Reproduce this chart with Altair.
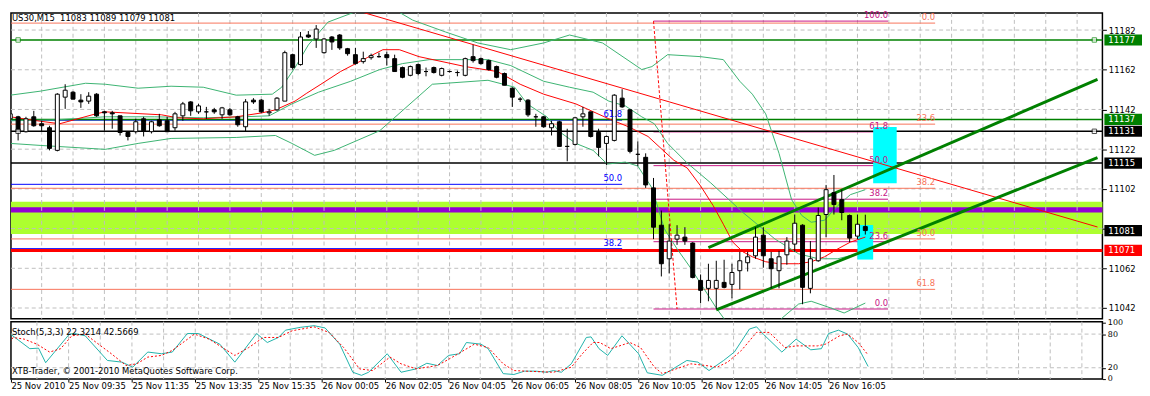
import altair as alt
import pandas as pd

# ---------------- candles (M15 bars, index 0..109) ----------------
opens = [11137.3, 11138.3, 11130.8, 11138.3, 11134.8, 11132.8, 11121.4, 11148.2, 11150.7, 11146.7,
         11146.2, 11149.7, 11140.8, 11140.3, 11138.8, 11130.4, 11130.8, 11137.3, 11130.8, 11136.8,
         11136.3, 11132.8, 11138.8, 11145.8, 11140.8, 11140.8, 11141.8, 11139.3, 11141.8, 11138.3,
         11133.3, 11146.7, 11146.7, 11140.3, 11141.8, 11146.2, 11169.6, 11164.6, 11179.5, 11177.5,
         11170.6, 11178.5, 11179.5, 11172.6, 11169.6, 11166.1, 11168.1, 11168.6, 11169.6, 11167.6,
         11163.1, 11159.2, 11164.6, 11161.1, 11163.1, 11159.2, 11161.1, 11160.6, 11159.2, 11168.6,
         11167.6, 11166.6, 11163.6, 11160.1, 11152.7, 11147.2, 11146.7, 11138.3, 11138.3, 11132.8,
         11135.8, 11123.4, 11124.4, 11138.3, 11140.8, 11130.4, 11124.9, 11126.4, 11147.7, 11141.8,
         11119.4, 11117.9, 11102.5, 11083.7, 11066.8, 11076.7, 11077.7, 11074.7, 11055.9, 11051.9,
         11051.9, 11054.9, 11053.9, 11060.8, 11064.8, 11068.3, 11078.7, 11066.8, 11060.8, 11068.8,
         11074.2, 11083.7, 11051.9, 11065.8, 11089.1, 11100.1, 11096.6, 11088.6, 11078.2, 11083.0]
highs = [11141.3, 11138.8, 11138.3, 11141.3, 11136.3, 11133.8, 11150.2, 11154.7, 11151.2, 11149.7,
         11150.7, 11150.2, 11141.3, 11141.3, 11138.8, 11130.8, 11137.3, 11138.3, 11136.3, 11139.8,
         11138.3, 11140.8, 11145.8, 11146.2, 11144.8, 11143.3, 11142.8, 11143.3, 11142.8, 11138.8,
         11147.2, 11147.7, 11147.2, 11142.3, 11148.2, 11171.6, 11170.1, 11181.0, 11181.5, 11184.5,
         11178.0, 11179.0, 11180.0, 11173.0, 11173.0, 11171.1, 11170.1, 11170.6, 11171.1, 11169.6,
         11163.6, 11164.1, 11165.1, 11163.1, 11163.6, 11163.1, 11161.6, 11161.6, 11168.1, 11174.6,
         11168.1, 11167.1, 11164.1, 11160.6, 11153.2, 11148.2, 11147.2, 11139.8, 11138.8, 11136.3,
         11136.3, 11132.3, 11138.3, 11143.3, 11140.8, 11132.3, 11128.9, 11149.7, 11152.2, 11142.3,
         11125.9, 11119.9, 11107.5, 11091.1, 11084.2, 11083.7, 11082.7, 11075.2, 11058.9, 11064.3,
         11065.8, 11066.3, 11064.3, 11070.3, 11070.3, 11082.7, 11082.7, 11070.3, 11070.8, 11077.7,
         11089.1, 11084.2, 11075.7, 11092.6, 11104.0, 11109.0, 11101.6, 11089.1, 11089.1, 11089.0]
lows = [11135.8, 11126.4, 11130.4, 11133.3, 11130.8, 11121.4, 11120.9, 11142.3, 11147.2, 11142.8,
        11144.8, 11138.3, 11131.3, 11132.3, 11128.9, 11126.4, 11129.9, 11128.4, 11129.9, 11133.3,
        11130.8, 11131.3, 11136.3, 11138.8, 11139.8, 11137.3, 11139.8, 11137.3, 11138.8, 11133.3,
        11130.8, 11144.8, 11140.3, 11138.8, 11141.3, 11146.2, 11162.1, 11164.1, 11178.0, 11173.0,
        11170.1, 11172.0, 11172.0, 11169.1, 11164.6, 11165.1, 11167.1, 11168.1, 11164.1, 11161.1,
        11157.7, 11158.7, 11159.2, 11158.7, 11160.1, 11158.7, 11160.6, 11158.7, 11158.7, 11165.6,
        11164.6, 11161.6, 11157.7, 11154.2, 11143.3, 11145.8, 11138.3, 11133.3, 11132.8, 11128.9,
        11123.4, 11115.9, 11123.9, 11133.3, 11127.9, 11118.4, 11114.0, 11125.9, 11142.8, 11119.9,
        11113.5, 11102.5, 11076.7, 11057.9, 11059.4, 11073.8, 11073.8, 11056.9, 11044.4, 11045.4,
        11041.5, 11051.9, 11046.9, 11051.4, 11060.4, 11066.8, 11062.3, 11051.9, 11051.9, 11063.8,
        11070.3, 11043.9, 11049.4, 11065.3, 11077.7, 11089.1, 11086.2, 11075.2, 11076.7, 11079.0]
closes = [11139.8, 11131.3, 11137.3, 11133.8, 11133.8, 11122.4, 11149.7, 11151.7, 11147.2, 11145.8,
          11148.7, 11138.8, 11140.3, 11139.8, 11130.4, 11128.4, 11135.8, 11131.3, 11135.8, 11133.8,
          11130.8, 11139.8, 11144.8, 11141.3, 11143.8, 11140.8, 11140.8, 11142.8, 11139.3, 11134.3,
          11145.8, 11145.8, 11140.8, 11140.8, 11147.7, 11170.6, 11163.1, 11178.5, 11178.5, 11182.5,
          11177.5, 11176.0, 11173.0, 11170.1, 11165.1, 11167.6, 11169.1, 11168.6, 11168.1, 11161.1,
          11158.2, 11163.6, 11160.1, 11161.1, 11160.6, 11162.6, 11161.1, 11160.6, 11167.6, 11166.6,
          11165.1, 11162.1, 11158.2, 11154.2, 11148.2, 11147.2, 11139.3, 11138.3, 11133.3, 11134.8,
          11123.4, 11123.4, 11137.8, 11139.8, 11128.4, 11122.9, 11128.4, 11149.2, 11143.3, 11120.9,
          11119.4, 11104.0, 11082.7, 11064.3, 11075.7, 11078.7, 11075.7, 11057.4, 11050.9, 11055.9,
          11055.9, 11052.4, 11059.9, 11065.8, 11067.8, 11077.7, 11068.3, 11061.8, 11067.8, 11075.7,
          11084.7, 11052.4, 11066.8, 11088.6, 11101.6, 11094.1, 11090.1, 11077.2, 11084.2, 11081.0]

# ---------------- axis ticks / labels ----------------
price_ticks = [11042, 11062, 11082, 11102, 11122, 11142, 11162, 11182]
hidden_price_label = 11082   # covered by the current-price tag in the reference
grid_bars = [4, 8, 12, 16, 20, 24, 28, 32, 36, 40, 44, 48, 52, 56, 60, 64, 68, 72, 76, 80,
             84, 88, 92, 96, 100, 104, 108, 112, 116, 120, 124, 128, 132, 136]
time_ticks = [0, 8, 16, 24, 32, 40, 48, 56, 64, 72, 80, 88, 96, 104]
time_labels = ["25 Nov 2010", "25 Nov 09:35", "25 Nov 11:35", "25 Nov 13:35", "25 Nov 15:35",
               "26 Nov 00:05", "26 Nov 02:05", "26 Nov 04:05", "26 Nov 06:05", "26 Nov 08:05",
               "26 Nov 10:05", "26 Nov 12:05", "26 Nov 14:05", "26 Nov 16:05"]
stoch_ticks = [0, 20, 80, 100]

# ---------------- indicators (read points: bar index, price) ----------------
ma_k = [0, 3.4, 6.3, 10.9, 12.1, 19.3, 21.3, 24.6, 28.8, 32.1, 33.8, 36.3, 37.8, 39.6, 42.1, 45.5,
        47.5, 49.6, 52.1, 58, 62.1, 65, 68, 72.1, 76.3, 78.8, 81.3, 84.6, 86.3, 88, 89.6, 90.9,
        92.1, 93.4, 94.6, 96.3, 98, 100.5, 102.1, 103.8, 105.5, 107.1, 109]
ma_p = [11138.3, 11136.3, 11134.8, 11139.8, 11140.8, 11139.3, 11137.8, 11137.3, 11138.3, 11140.3,
        11141.8, 11146.2, 11150.2, 11154.7, 11161.1, 11168.1, 11172.1, 11172.1, 11168.6, 11163.6,
        11161.1, 11154.7, 11149.7, 11144.8, 11137.3, 11133.3, 11128.4, 11116.4, 11112.5, 11103.5,
        11093.6, 11084.2, 11075.2, 11070.3, 11067.8, 11065.3, 11064.3, 11064.3, 11065.3, 11067.8,
        11071.8, 11075.2, 11077.7]
bbu_k = [0, 3.8, 9.6, 12.1, 16.3, 20.5, 24.6, 28.8, 33.4, 34.6, 36.3, 38, 40.5, 43.8, 46.3, 49.6,
         51.3, 55.5, 59.6, 63.8, 68, 71.3, 75.5, 80.5, 81.8, 83.8, 88, 90.9, 93, 94.6, 96.3, 98,
         99.6, 100.9, 102.1, 103.8, 105.5, 107.1, 109]
bbu_p = [11149.2, 11151.2, 11155.2, 11154.7, 11152.7, 11153.7, 11153.2, 11149.2, 11149.7, 11153.2,
         11163.1, 11174.5, 11186.0, 11190.9, 11192.9, 11190.9, 11187.0, 11181.0, 11175.5, 11172.1,
         11175.5, 11179.5, 11175.5, 11162.1, 11163.6, 11169.6, 11168.6, 11167.1, 11156.2, 11149.7,
         11139.8, 11119.9, 11096.6, 11088.6, 11085.2, 11086.2, 11093.6, 11099.1, 11101.6]
bbm_k = [0, 5.9, 12.1, 18.4, 24.6, 29.6, 33, 35.9, 39.3, 43.4, 47.1, 50, 53.4, 57.5, 60.9, 63.8,
         68, 71.3, 74.3, 76.3, 78.4, 80.5, 82.1, 83.8, 86.3, 89.3, 93.4, 97.5, 100.5, 103, 105.5,
         108, 109]
bbm_p = [11136.3, 11136.8, 11138.3, 11138.3, 11137.8, 11138.3, 11138.8, 11144.8, 11150.7, 11156.2,
         11162.1, 11165.1, 11167.1, 11167.1, 11167.1, 11164.1, 11156.2, 11153.2, 11150.7, 11146.2,
         11143.8, 11138.3, 11134.8, 11124.9, 11115.0, 11105.0, 11090.1, 11076.7, 11069.3, 11066.8,
         11066.8, 11069.3, 11070.3]
bbl_k = [0, 3.8, 8, 12.1, 16.3, 20.5, 28.8, 33.8, 35.9, 38.8, 41.3, 47.1, 53.8, 60.9, 64.3, 65.9,
         68.4, 70, 72.1, 74.3, 76.1, 78.4, 80, 81.8, 83.4, 85, 86.8, 88.4, 90, 92.1, 95.3, 98.4,
         100.5, 102.1, 104.6, 106.3, 109]
bbl_p = [11124.9, 11123.9, 11122.9, 11121.9, 11124.9, 11127.4, 11127.9, 11128.9, 11124.9, 11118.9,
         11121.4, 11131.3, 11154.7, 11156.7, 11153.2, 11144.8, 11138.3, 11130.8, 11124.9, 11121.4,
         11114.5, 11115.5, 11113.5, 11102.5, 11081.7, 11071.8, 11061.8, 11051.9, 11042.0, 11030.6,
         11023.0, 11037.0, 11044.0, 11045.4, 11042.0, 11039.5, 11044.5]

# ---------------- stochastic (5,3,3) read points ----------------
st_k = [0, 0.75, 3.1, 4.2, 5.1, 8.1, 8.75, 10.1, 12.9, 14.75, 16.1, 18, 19.75, 21.1, 23, 24.4,
        27.1, 29, 31.75, 33.1, 34.5, 35.4, 37.25, 39, 40.4, 42.25, 43.9, 45, 45.9, 48.25, 50,
        51.9, 53.25, 54.6, 56, 57.4, 58.25, 60.1, 61, 62.9, 64.25, 65.6, 67, 68.4, 69.25, 70.25,
        71.5, 73.4, 74, 75, 76.1, 77.9, 80, 81.1, 83, 86.1, 87.5, 88.9, 90.75, 92.1, 94, 94.9,
        95.75, 98.1, 99.9, 101.75, 103.1, 104, 105.25, 106.4, 107.75, 109]
st_v = [80, 79, 54, 55, 29, 80, 81, 77, 33, 30, 21, 48, 45, 48, 81, 81,
        62, 30, 81, 65, 74, 87, 92, 95, 91, 62, 12, 6.5, 12, 45, 12,
        18, 28, 24, 42, 45, 65, 62, 54, 9.5, 8, 14, 14, 12, 15, 12,
        27, 74, 75, 54, 42, 77, 45, 11, 6.5, 33, 30, 15, 33, 48, 89, 93,
        80, 48, 71, 52, 54, 81, 87, 80, 56, 22.3]
sg_k = [0, 1, 2.4, 4, 5.6, 7, 8.4, 10.1, 11.5, 13.4, 15.25, 16.6, 18, 19.75, 21.1, 23.9, 25.75,
        29, 30.75, 32.6, 34.5, 36.25, 39, 40.9, 42.75, 44.75, 46.4, 48.6, 50, 51.9, 54.6, 56.5,
        59.25, 61, 62.9, 64.25, 66.5, 69.25, 71.5, 72.9, 74.25, 75.1, 76.5, 78.9, 80.25, 82, 83,
        84.75, 86.6, 88.5, 89.9, 91.25, 93, 94.9, 96.5, 98.5, 99.9, 102.6, 103.6, 105.4, 106.4,
        107.75, 109]
sg_v = [54, 74, 71, 62, 48, 54, 77, 80, 65, 45, 24, 27, 39, 42, 51, 80, 71,
        42, 56, 74, 74, 86, 93, 83, 56, 18, 15, 39, 27, 18, 24, 39,
        62, 56, 27, 15, 13.5, 12, 21, 45, 65, 65, 54, 65, 56, 21, 9.5,
        18, 27, 24, 21, 30, 51, 83, 83, 56, 59, 59, 62, 77, 80,
        65, 42.6]

# ---------------- chart objects ----------------
band_lo = [11079.3, 11090.1]
band_hi = [11095.5, 11092.8]
band_col = ["#ADFF2F", "#9400D3"]

fib_from = [0, 0, 0, 0, 0, 82, 82, 82, 82, 82, 82, 0, 0, 0]
fib_to = [117.9, 117.9, 117.9, 117.9, 117.9, 111.9, 111.9, 111.9, 111.9, 111.9, 111.9, 78, 78, 78]
fib_price = [11185.5, 11134.6, 11102.3, 11076.8, 11051.4,
             11186.5, 11130.7, 11113.7, 11096.8, 11075.4, 11041.5,
             11136.6, 11104.3, 11071.9]
fib_label = ["0.0", "23.6", "38.2", "50.0", "61.8",
             "100.0", "61.8", "50.0", "38.2", "23.6", "0.0",
             "61.8", "50.0", "38.2"]
fib_col = ["#F8735A"] * 5 + ["#C71585"] * 6 + ["#0000FF"] * 3

hline_price = [11177, 11137, 11131, 11115, 11071]
hline_col = ["#008000", "#008000", "#000000", "#000000", "#FF0000"]
hline_w = [1.5, 1.5, 1.5, 1.5, 3]

tag_price = [11177, 11137, 11131, 11115, 11081, 11071]
tag_label = ["11177", "11137", "11131", "11115", "11081", "11071"]
tag_col = ["#008000", "#008000", "#000000", "#000000", "#000000", "#FF0000"]

cyan_from = [110, 108]
cyan_to = [113, 110]
cyan_lo = [11104.8, 11066.4]
cyan_hi = [11133.2, 11083.8]

trend_id = ["down", "down", "up1", "up1", "up2", "up2"]
trend_k = [44, 138.6, 89, 138.6, 90, 138.6]
trend_p = [11192.0, 11082.8, 11072.4, 11157.1, 11041.0, 11117.7]
trend_col = ["#FF0000", "#FF0000", "#008000", "#008000", "#008000", "#008000"]
trend_w = [1, 1, 3, 3, 3, 3]

dash_k = [82, 85]
dash_p = [11186.5, 11041.5]

handle_k = [1.0, 138.2, 1.0, 138.2]
handle_p = [11177, 11177, 11131, 11131]
handle_col = ["#008000", "#008000", "#000000", "#000000"]

title_txt = "US30,M15\u00a0\u00a011083 11089 11079 11081"
stoch_txt = "Stoch(5,3,3) 22.3214 42.5669"
copy_txt = "XTB-Trader, \u00a9 2001-2010 MetaQuotes Software Corp."

# ---------------- build ----------------
FONT = "DejaVu Sans"
FS = 8.5
W, HM, HS = 1103, 309, 58
K0 = 0.72                      # bar position at the left frame (first bar is half hidden)
xs = alt.Scale(domain=[K0, K0 + W / 8.0], nice=False, zero=False)
ys = alt.Scale(domain=[11036.6, 11190.6], nice=False, zero=False)
ss = alt.Scale(domain=[-0.2, 102.1], nice=False, zero=False)

# first time label sits on the left frame, as in the reference
time_axis_values = [max(t, K0) for t in time_ticks]

yaxis = alt.Axis(orient="right", values=price_ticks, tickSize=4, labelPadding=2, title=None,
                 labelExpr=f"datum.value == {hidden_price_label} ? '' : format(datum.value, 'd')")


def X(f):
    return alt.X(f"{f}:Q", scale=xs, axis=None)


def Y(f):
    return alt.Y(f"{f}:Q", scale=ys, axis=yaxis)


candles = pd.DataFrame({"k": list(range(len(opens))), "o": opens, "h": highs, "l": lows, "c": closes})

bands = alt.Chart(pd.DataFrame({"lo": band_lo, "hi": band_hi, "col": band_col})).mark_rect().encode(
    x=alt.value(0), x2=alt.value(W), y=Y("lo"), y2="hi", color=alt.Color("col:N", scale=None))

grid_h = alt.Chart(pd.DataFrame({"p": price_ticks})).mark_rule(
    color="#BEBEBE", strokeDash=[4, 3], strokeWidth=1).encode(y=Y("p"))
grid_v = alt.Chart(pd.DataFrame({"k": grid_bars})).mark_rule(
    color="#BEBEBE", strokeDash=[4, 3], strokeWidth=1).encode(x=X("k"))

fib_df = pd.DataFrame({"k1": fib_from, "k2": fib_to, "p": fib_price, "lab": fib_label, "col": fib_col})
fib_lines = alt.Chart(fib_df).mark_rule(strokeWidth=1, clip=True).encode(
    x=X("k1"), x2="k2", y=Y("p"), color=alt.Color("col:N", scale=None))

hl = alt.Chart(pd.DataFrame({"p": hline_price, "col": hline_col, "w": hline_w})).mark_rule().encode(
    y=Y("p"), color=alt.Color("col:N", scale=None), strokeWidth=alt.StrokeWidth("w:Q", scale=None))

cyan = alt.Chart(pd.DataFrame({"k1": cyan_from, "k2": cyan_to, "lo": cyan_lo, "hi": cyan_hi})).mark_rect(
    color="#00FFFF").encode(x=X("k1"), x2="k2", y=Y("lo"), y2="hi")

ind_rows = []
for name, kk, pp, col in [("bbu", bbu_k, bbu_p, "#3CB371"), ("bbm", bbm_k, bbm_p, "#3CB371"),
                          ("bbl", bbl_k, bbl_p, "#3CB371"), ("ma", ma_k, ma_p, "#FF0000")]:
    for a, b in zip(kk, pp):
        ind_rows.append({"s": name, "k": a, "p": b, "col": col})
ind = alt.Chart(pd.DataFrame(ind_rows)).mark_line(strokeWidth=1, clip=True).encode(
    x=X("k"), y=Y("p"), detail="s:N", color=alt.Color("col:N", scale=None))

trend = alt.Chart(pd.DataFrame({"id": trend_id, "k": trend_k, "p": trend_p, "col": trend_col, "w": trend_w})).mark_line(
    clip=True).encode(x=X("k"), y=Y("p"), detail="id:N", color=alt.Color("col:N", scale=None),
                      strokeWidth=alt.StrokeWidth("w:Q", scale=None))

dash = alt.Chart(pd.DataFrame({"k": dash_k, "p": dash_p})).mark_line(
    color="#FF0000", strokeDash=[3, 2], strokeWidth=1, clip=True).encode(x=X("k"), y=Y("p"))

wicks = alt.Chart(candles).mark_rule(color="black", strokeWidth=1, clip=True).encode(
    x=X("k"), y=Y("l"), y2="h")
bodies = alt.Chart(candles).mark_bar(size=4, stroke="black", strokeWidth=1, clip=True).encode(
    x=X("k"), y=Y("o"), y2="c",
    fill=alt.condition("datum.c < datum.o", alt.value("black"), alt.value("white")))

fib_text = alt.Chart(fib_df).mark_text(align="right", baseline="bottom", dy=-1, font=FONT, fontSize=FS).encode(
    x=X("k2"), y=Y("p"), text="lab:N", color=alt.Color("col:N", scale=None))

title = alt.Chart(pd.DataFrame({"t": [title_txt]})).mark_text(
    align="left", baseline="middle", font=FONT, fontSize=FS, color="#000000").encode(
    x=alt.value(1), y=alt.value(5), text="t:N")

tags_df = pd.DataFrame({"p": tag_price, "lab": tag_label, "col": tag_col})
tag_box = alt.Chart(tags_df).transform_calculate(lo="datum.p - 2.8", hi="datum.p + 2.8").mark_rect().encode(
    x=alt.value(W + 2), x2=alt.value(W + 41), y=Y("lo"), y2="hi", color=alt.Color("col:N", scale=None))
tag_txt = alt.Chart(tags_df).mark_text(align="left", baseline="middle", font=FONT, fontSize=FS,
                                       color="white").encode(x=alt.value(W + 6), y=Y("p"), text="lab:N")

handles = alt.Chart(pd.DataFrame({"k": handle_k, "p": handle_p, "col": handle_col})).mark_square(
    size=20, filled=True, fill="white", strokeWidth=1).encode(
    x=X("k"), y=Y("p"), stroke=alt.Stroke("col:N", scale=None))

main = alt.layer(bands, grid_h, grid_v, fib_lines, hl, cyan, ind, trend, dash, wicks, bodies,
                 fib_text, title, tag_box, tag_txt, handles).properties(width=W, height=HM)

# ---------------- stochastic panel ----------------
label_expr = "[" + ",".join("'" + s + "'" for s in time_labels) + "][round(datum.value / 8)]"
xaxis_s = alt.Axis(orient="bottom", values=time_axis_values, labelExpr=label_expr, labelAlign="left",
                   labelFlush=False, labelOverlap=False, tickSize=3, labelPadding=0, title=None)
saxis = alt.Axis(orient="right", values=stoch_ticks, tickSize=3, labelPadding=2,
                 labelOverlap=False, labelFontSize=8, title=None)


def XS(f):
    return alt.X(f"{f}:Q", scale=xs, axis=xaxis_s)


def YS(f):
    return alt.Y(f"{f}:Q", scale=ss, axis=saxis)


s_grid_h = alt.Chart(pd.DataFrame({"v": [20, 80]})).mark_rule(
    color="#BEBEBE", strokeDash=[4, 3]).encode(y=YS("v"))
s_grid_v = alt.Chart(pd.DataFrame({"k": grid_bars})).mark_rule(
    color="#BEBEBE", strokeDash=[4, 3]).encode(x=XS("k"))
s_main = alt.Chart(pd.DataFrame({"k": st_k, "v": st_v})).mark_line(
    color="#20B2AA", strokeWidth=1, clip=True).encode(x=XS("k"), y=YS("v"))
s_sig = alt.Chart(pd.DataFrame({"k": sg_k, "v": sg_v})).mark_line(
    color="#FF0000", strokeWidth=1, strokeDash=[2, 2], clip=True).encode(x=XS("k"), y=YS("v"))
s_txt = alt.Chart(pd.DataFrame({"t": [stoch_txt, copy_txt], "yy": [10, 50]})).mark_text(
    align="left", baseline="middle", font=FONT, fontSize=FS, color="black").encode(
    x=alt.value(1), y=alt.Y("yy:Q", scale=None), text="t:N")

stoch = alt.layer(s_grid_h, s_grid_v, s_main, s_sig, s_txt).properties(width=W, height=HS)

chart = alt.vconcat(main, stoch, spacing=3, bounds="flush").properties(
    padding={"left": 0, "top": 0, "right": -2, "bottom": -4},
    background="white",
).configure_view(stroke="black", strokeWidth=1.5).configure_axis(
    labelFont=FONT, labelFontSize=FS, labelColor="black", tickColor="black", domain=False, grid=False)

chart.save("out.html", embed_options={"renderer": "svg", "actions": False})
